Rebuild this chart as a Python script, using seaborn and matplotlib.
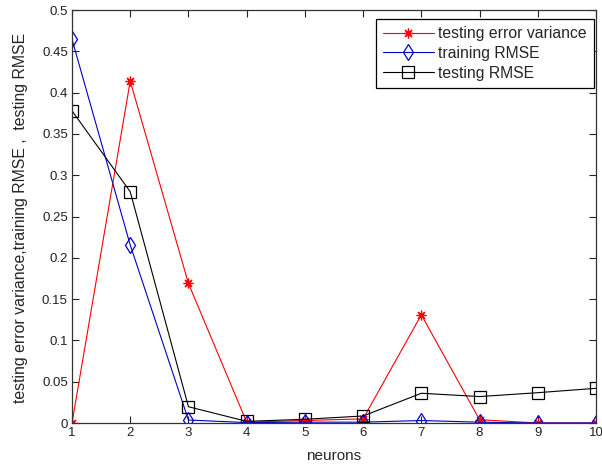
import matplotlib
matplotlib.use("Agg")
import matplotlib.pyplot as plt
import seaborn as sns
import pandas as pd

neurons = [1, 2, 3, 4, 5, 6, 7, 8, 9, 10]
testing_error_variance = [0.0, 0.414, 0.169, 0.001, 0.003, 0.005, 0.131, 0.004, 0.0, 0.0]
training_rmse = [0.4645, 0.2155, 0.0036, 0.0005, 0.001, 0.001, 0.003, 0.001, 0.0, 0.0]
testing_rmse = [0.378, 0.280, 0.0197, 0.002, 0.0045, 0.0085, 0.036, 0.032, 0.0367, 0.042]

x_ticks = list(range(1, 11))
y_ticks = [0, 0.05, 0.1, 0.15, 0.2, 0.25, 0.3, 0.35, 0.4, 0.45, 0.5]
y_tick_labels = ["0", "0.05", "0.1", "0.15", "0.2", "0.25", "0.3",
                 "0.35", "0.4", "0.45", "0.5"]

sns.set_style("ticks")
plt.rcParams["font.family"] = ["Liberation Sans", "DejaVu Sans"]

fig = plt.figure(figsize=(6.02, 4.70), dpi=100)
ax = fig.add_axes([0.1196, 0.1, 0.8704, 0.8787])

series = [
    ("testing error variance", testing_error_variance, "#ff0000", (8, 2, 0), 7),
    ("training RMSE", training_rmse, "#0000cc", "d", 8),
    ("testing RMSE", testing_rmse, "#000000", "s", 8),
]
for name, vals, color, marker, ms in series:
    df = pd.DataFrame({"neurons": neurons, "value": vals})
    sns.lineplot(data=df, x="neurons", y="value", ax=ax, color=color,
                 marker=marker, markersize=ms, markerfacecolor="none",
                 markeredgecolor=color, markeredgewidth=0.9,
                 linewidth=0.8, label=name)

ax.set_xlim(1, 10)
ax.set_ylim(0, 0.5)
ax.set_xticks(x_ticks)
ax.set_xticklabels([str(t) for t in x_ticks])
ax.set_yticks(y_ticks)
ax.set_yticklabels(y_tick_labels)
ax.tick_params(direction="in", top=True, right=True, length=5, width=0.8,
               labelsize=9.5, colors="#222222", pad=3)
for s in ax.spines.values():
    s.set_visible(True)
    s.set_color("#333333")
    s.set_linewidth(0.9)

ax.set_xlabel("neurons", fontsize=11)
ax.xaxis.set_label_coords(0.5, -0.063)
ax.set_ylabel("testing error variance,training RMSE ,  testing RMSE",
              fontsize=11.4)
ax.yaxis.set_label_coords(-0.084, 0.496)

leg = ax.legend(loc="upper right", bbox_to_anchor=(0.9962, 0.978),
                fontsize=11.3, frameon=True, fancybox=False,
                edgecolor="#000000", framealpha=1, borderaxespad=0,
                handlelength=3.2, handletextpad=0.3, labelspacing=0.3,
                borderpad=0.45)
leg.get_frame().set_linewidth(0.9)

fig.savefig("out.png", dpi=100)
